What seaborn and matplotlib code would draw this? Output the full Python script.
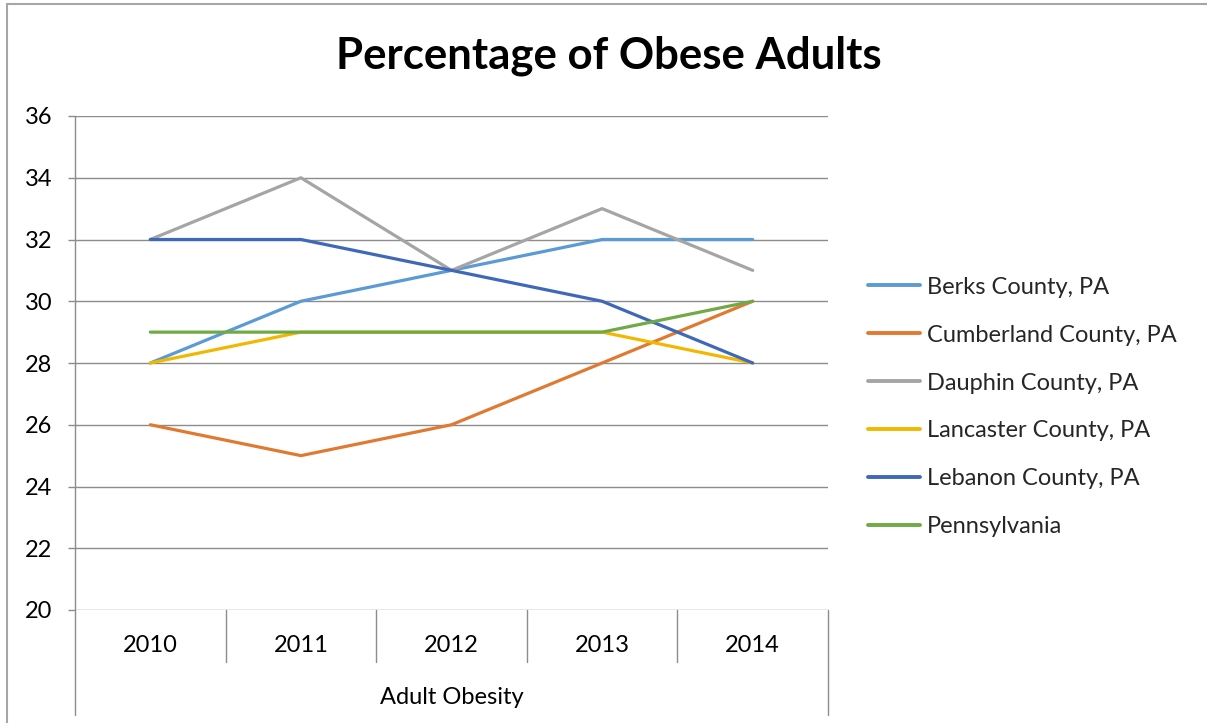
import matplotlib
matplotlib.use("Agg")
import matplotlib.pyplot as plt
from matplotlib.lines import Line2D
import seaborn as sns
import pandas as pd

years = ["2010", "2011", "2012", "2013", "2014"]
series_names = [
    "Berks County, PA",
    "Cumberland County, PA",
    "Dauphin County, PA",
    "Lancaster County, PA",
    "Lebanon County, PA",
    "Pennsylvania",
]
berks = [28, 30, 31, 32, 32]
cumberland = [26, 25, 26, 28, 30]
dauphin = [32, 34, 31, 33, 31]
lancaster = [28, 29, 29, 29, 28]
lebanon = [32, 32, 31, 30, 28]
pennsylvania = [29, 29, 29, 29, 30]
y_ticks = [20, 22, 24, 26, 28, 30, 32, 34, 36]
group_label = "Adult Obesity"
title = "Percentage of Obese Adults"

colors = ["#5B9BD5", "#E07A32", "#A5A5A5", "#F2B800", "#4068B8", "#6FAA46"]

values = [berks, cumberland, dauphin, lancaster, lebanon, pennsylvania]
rows = []
for name, vals in zip(series_names, values):
    for i, v in enumerate(vals):
        rows.append({"pos": i, "year": years[i], "value": v, "series": name})
df = pd.DataFrame(rows)

sns.set_theme(style="white")
plt.rcParams["font.family"] = ["Lato", "DejaVu Sans"]

W, H = 1207, 723
fs = 17
fig = plt.figure(figsize=(W / 100, H / 100), dpi=100)
left, right, top, bottom = 75, 828, 116, 610
ax = fig.add_axes([left / W, 1 - bottom / H, (right - left) / W, (bottom - top) / H])

grid_c = "#8C8C8C"
sns.lineplot(data=df, x="pos", y="value", hue="series", hue_order=series_names,
             palette=dict(zip(series_names, colors)), linewidth=2.3, sort=False,
             estimator=None, ax=ax)

ax.set_xlim(-0.5, len(years) - 0.5)
ax.set_ylim(y_ticks[0], y_ticks[-1])
ax.set_yticks(y_ticks)
ax.set_yticklabels([str(t) for t in y_ticks], fontsize=fs, color="#000000")
ax.set_xticks([])
ax.set_xlabel("")
ax.set_ylabel("")
for t in y_ticks:
    ax.axhline(t, color=grid_c, linewidth=1.0, zorder=0)
for s in ["top", "right", "bottom", "left"]:
    ax.spines[s].set_visible(False)
ax.tick_params(axis="y", length=5, width=1.0, color=grid_c, pad=11.5, direction="out", left=True)

# category axis with group row underneath
inner = -(662 - bottom) / (bottom - top)
outer = -(715 - bottom) / (bottom - top)
xt = ax.get_xaxis_transform()
ax.plot([-0.5, -0.5], [0, 1], transform=xt, color=grid_c, lw=1.0, clip_on=False)
for xb in [-0.5, len(years) - 0.5]:
    ax.plot([xb, xb], [0, outer], transform=xt, color=grid_c, lw=1.0, clip_on=False)
for k in range(1, len(years)):
    xb = k - 0.5
    ax.plot([xb, xb], [0, inner], transform=xt, color=grid_c, lw=1.0, clip_on=False)
for i, yr in enumerate(years):
    ax.text(i, -(645 - bottom) / (bottom - top), yr, transform=xt,
            ha="center", va="center", fontsize=fs, color="#000000")
ax.text((len(years) - 1) / 2, -(697 - bottom) / (bottom - top), group_label,
        transform=xt, ha="center", va="center", fontsize=fs, color="#000000")

fig.text(609 / W, 1 - 56 / H, title, ha="center", va="center", fontsize=31.5,
         fontweight="bold", color="#000000")

sns.move_legend(ax, loc="center left", bbox_to_anchor=(868 / W, 1 - 407 / H),
                bbox_transform=fig.transFigure, frameon=False, title=None,
                fontsize=fs, handlelength=2.2, handletextpad=0.3, labelspacing=1.14,
                borderpad=0, borderaxespad=0)
for line in ax.get_legend().get_lines():
    line.set_linewidth(2.8)

# chart border
fig.add_artist(Line2D([7 / W, 1], [1 - 4 / H, 1 - 4 / H], color="#A6A6A6", lw=1.5))
fig.add_artist(Line2D([7 / W, 7 / W], [0, 1 - 4 / H], color="#A6A6A6", lw=1.5))

fig.savefig("out.png", dpi=100)
